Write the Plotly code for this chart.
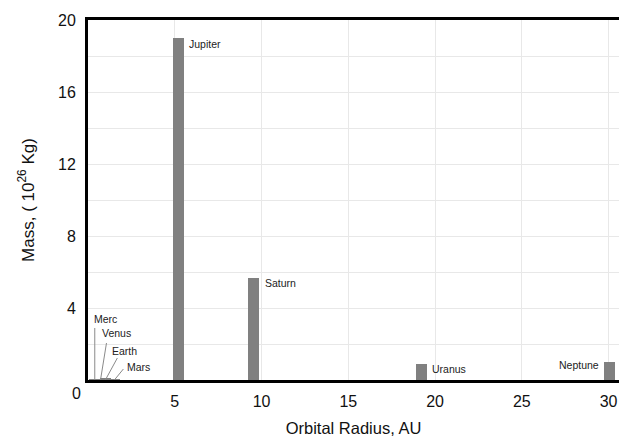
import plotly.graph_objects as go

# Planet data: orbital radius (AU) and mass (10^26 kg)
planets = ["Merc", "Venus", "Earth", "Mars", "Jupiter", "Saturn", "Uranus", "Neptune"]
radius_au = [0.39, 0.72, 1.0, 1.52, 5.2, 9.54, 19.2, 30.06]
mass_1e26 = [0.0033, 0.0487, 0.0597, 0.0064, 18.98, 5.68, 0.868, 1.02]

x_ticks = [5, 10, 15, 20, 25, 30]
y_ticks = [4, 8, 12, 16, 20]

FONT = "Liberation Sans, Arial, sans-serif"

fig = go.Figure()
fig.add_trace(go.Bar(
    x=radius_au, y=mass_1e26, width=0.63,
    marker=dict(color="#808080", line=dict(width=0)),
    hoverinfo="x+y", showlegend=False,
))

# Label placement per planet: (xanchor, xshift px, yshift px, leader dx px, leader dy px)
label_style = {
    "Merc":    ("left", -3, 61, 0, 52),
    "Venus":   ("left", 0, 46, 6, 37),
    "Earth":   ("left", 5, 28, 12, 22),
    "Mars":    ("left", 11, 13, 9, 11),
    "Jupiter": ("left", 9, -6, None, None),
    "Saturn":  ("left", 9, -5, None, None),
    "Uranus":  ("left", 9, -5, None, None),
    "Neptune": ("right", -9, -3, None, None),
}

annotations = []
shapes = []
for name, r, m in zip(planets, radius_au, mass_1e26):
    xa, xs, ys, ldx, ldy = label_style[name]
    annotations.append(dict(
        x=r, y=m, xref="x", yref="y", text=name, showarrow=False,
        xanchor=xa, yanchor="middle", xshift=xs, yshift=ys,
        font=dict(family=FONT, size=10.5, color="#222"),
    ))
    if ldx is not None:
        shapes.append(dict(
            type="line", xref="x", yref="y",
            xsizemode="pixel", ysizemode="pixel",
            xanchor=r, yanchor=0, x0=0, x1=ldx, y0=0, y1=ldy,
            line=dict(color="#8a8a8a", width=1),
        ))

# Shared origin label
annotations.append(dict(
    x=0, y=0, xref="x", yref="y", text="0", showarrow=False,
    xanchor="center", yanchor="middle", xshift=-12, yshift=-13,
    font=dict(family=FONT, size=16, color="#111"),
))

fig.update_layout(
    width=619, height=440,
    margin=dict(l=88, r=0, t=20, b=60),
    paper_bgcolor="white", plot_bgcolor="white",
    font=dict(family=FONT, size=16, color="#111"),
    annotations=annotations, shapes=shapes,
    bargap=0,
)
fig.update_xaxes(
    range=[0, 30.6], tickvals=x_ticks, ticks="", ticklabelstandoff=5,
    showgrid=True, gridcolor="#e8e8e8", gridwidth=1,
    showline=True, linecolor="black", linewidth=3, mirror=True,
    zeroline=False,
    title=dict(text="Orbital Radius, AU", font=dict(size=16.5), standoff=14),
)
fig.update_yaxes(
    range=[0, 20], tickvals=y_ticks, ticks="", ticklabelstandoff=6,
    showgrid=True, gridcolor="#e8e8e8", gridwidth=1,
    minor=dict(dtick=2, showgrid=True, gridcolor="#e8e8e8", gridwidth=1),
    showline=True, linecolor="black", linewidth=3,
    zeroline=False,
    title=dict(text="Mass, ( 10<sup>26</sup> Kg)", font=dict(size=17), standoff=20),
)

fig.write_html("out.html")
